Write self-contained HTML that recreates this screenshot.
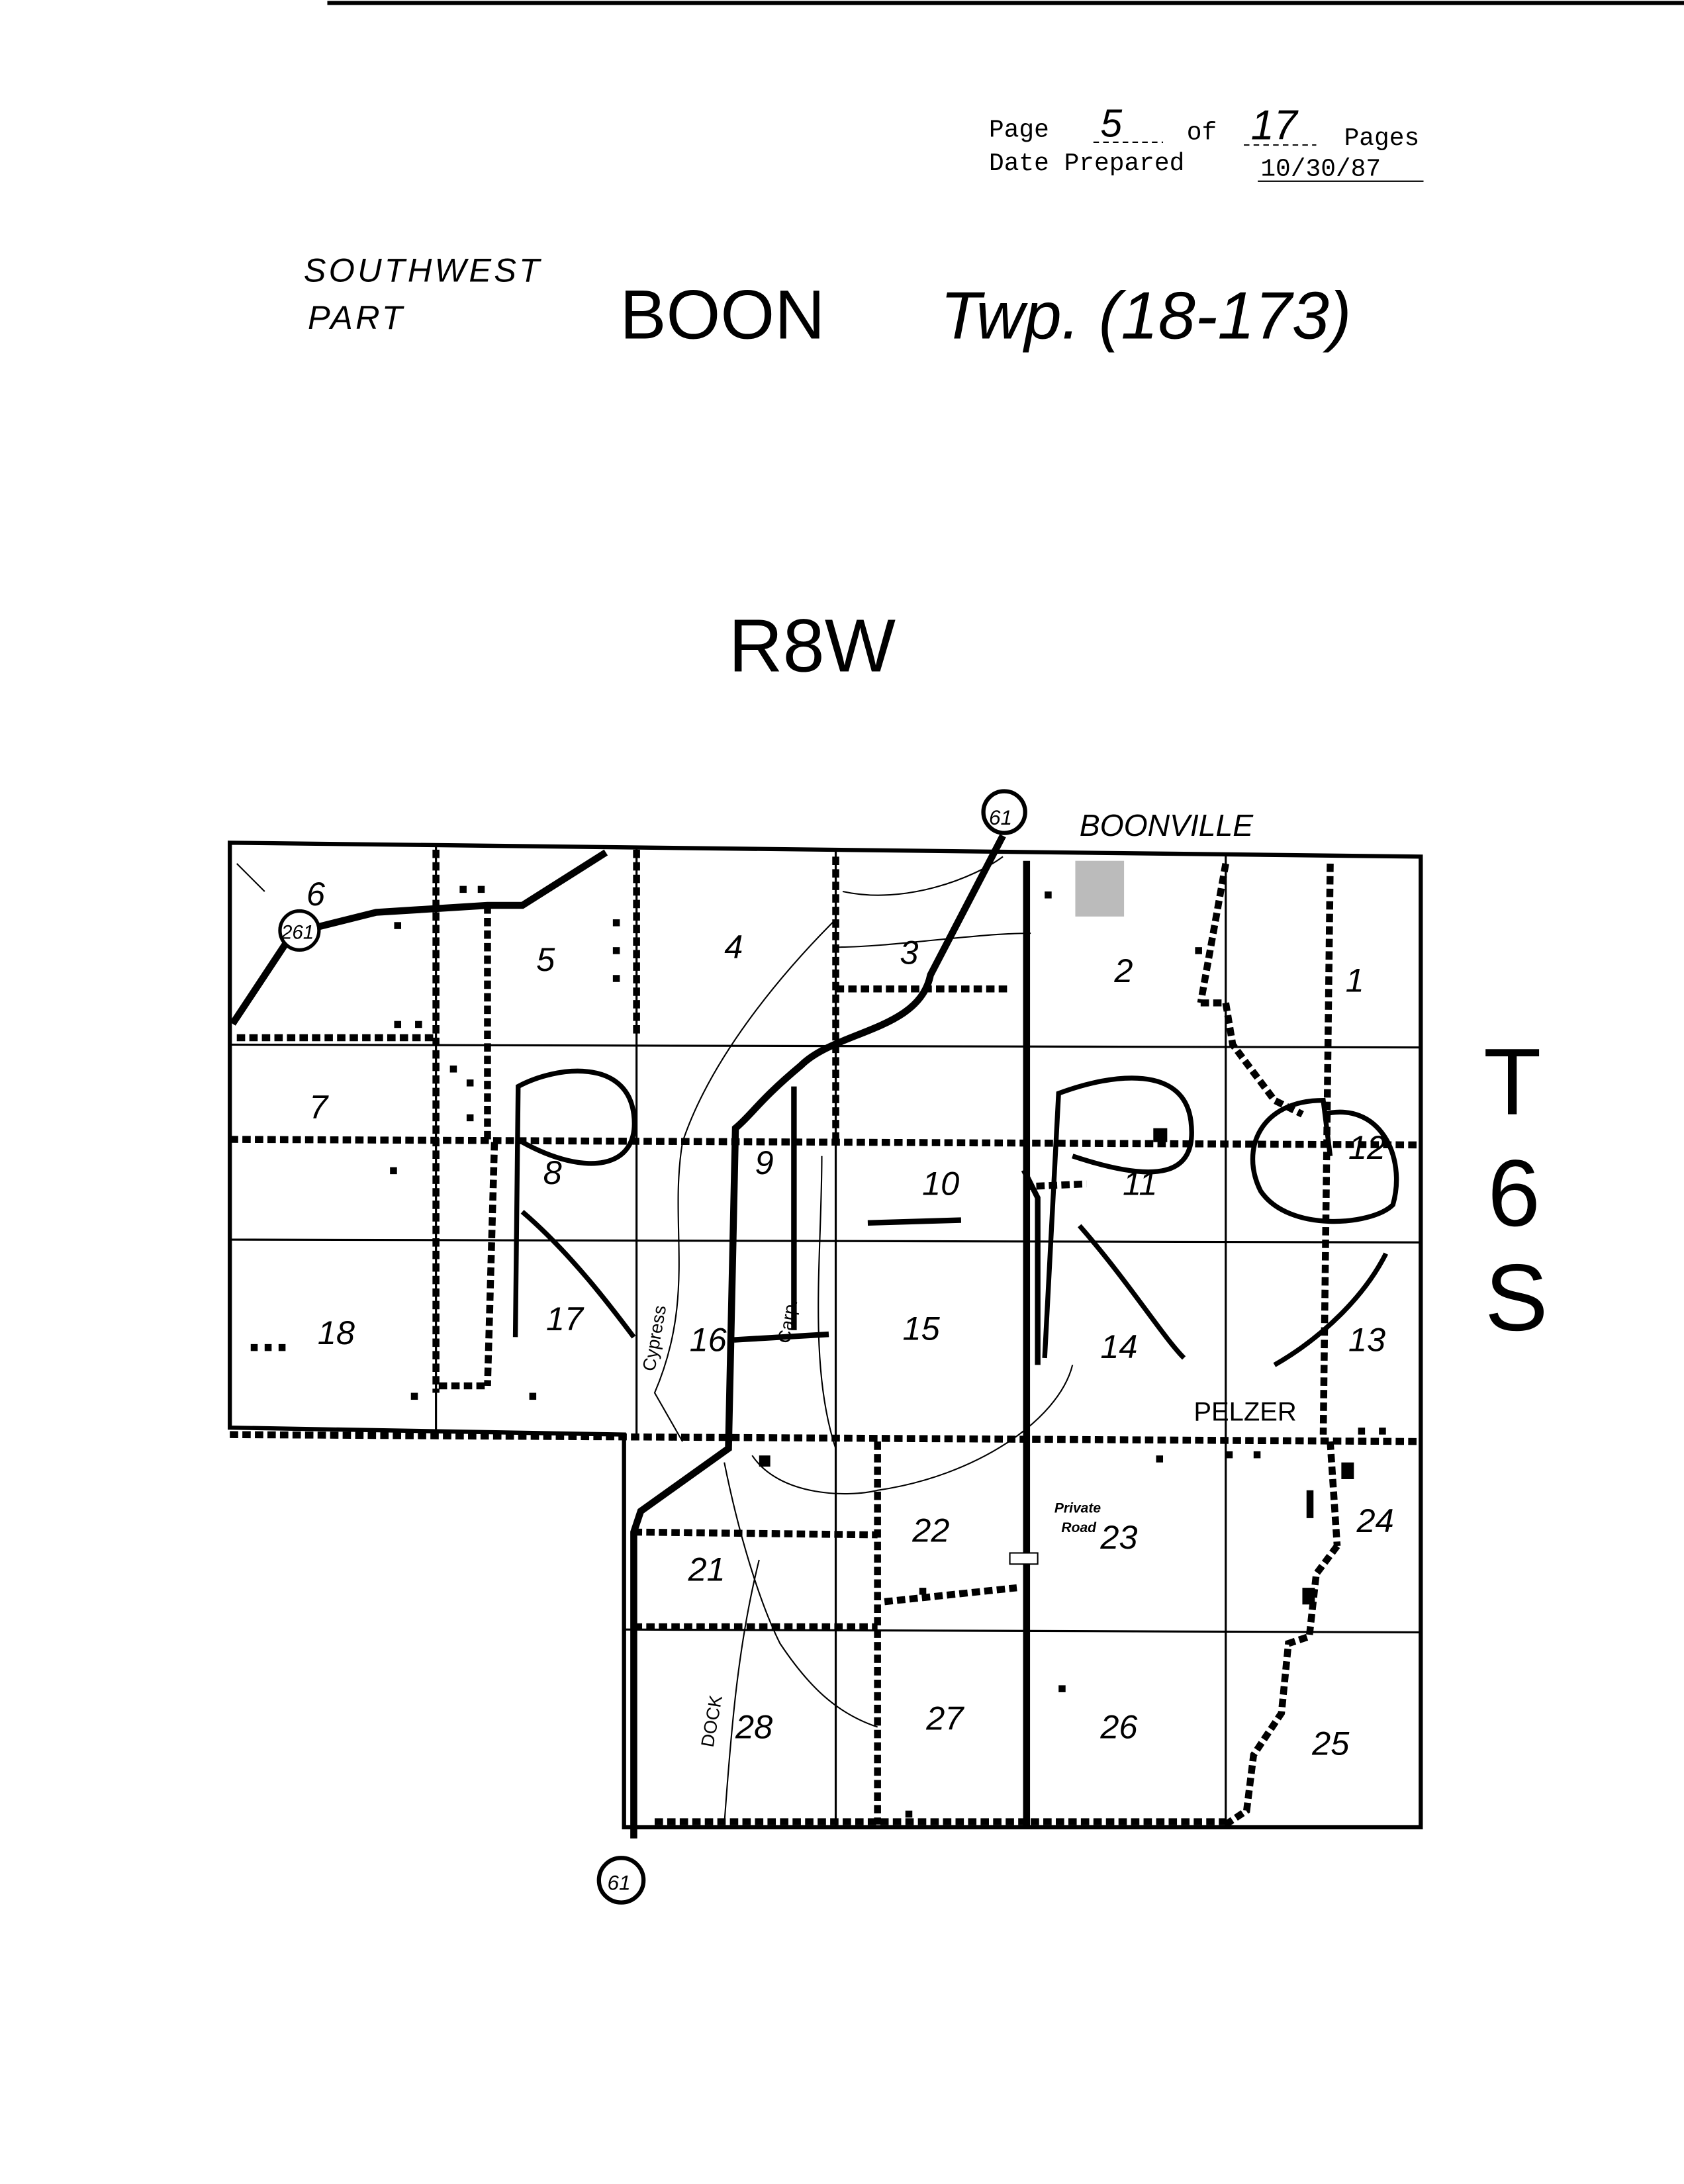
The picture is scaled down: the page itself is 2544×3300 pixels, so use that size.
<!DOCTYPE html>
<html><head><meta charset="utf-8"><style>
html,body{margin:0;padding:0;background:#fff}
svg{display:block}
</style></head><body>
<svg width="2544" height="3300" viewBox="0 0 1209 1568" xmlns="http://www.w3.org/2000/svg" font-family="Liberation Sans, sans-serif">
<rect width="1209" height="1568" fill="#fff"/>
<line x1="235" y1="2" x2="1209" y2="2" stroke="#000" stroke-width="3"/>
<!-- header -->
<text x="710" y="98" font-family="Liberation Mono, monospace" font-size="18">Page</text>
<text x="790" y="98" font-size="28" font-style="italic">5</text>
<line x1="785" y1="102" x2="835" y2="102" stroke="#000" stroke-dasharray="4 3"/>
<text x="852" y="100" font-family="Liberation Mono, monospace" font-size="18">of</text>
<text x="898" y="100" font-size="30" font-style="italic">17</text>
<line x1="893" y1="104" x2="945" y2="104" stroke="#000" stroke-dasharray="4 3"/>
<text x="965" y="104" font-family="Liberation Mono, monospace" font-size="18">Pages</text>
<text x="710" y="122" font-family="Liberation Mono, monospace" font-size="18">Date Prepared</text>
<text x="905" y="126" font-family="Liberation Mono, monospace" font-size="18">10/30/87</text>
<line x1="903" y1="130" x2="1022" y2="130" stroke="#000"/>
<text x="218" y="202" font-size="24" font-style="italic" letter-spacing="2">SOUTHWEST</text>
<text x="221" y="236" font-size="24" font-style="italic" letter-spacing="2">PART</text>
<text x="445" y="243" font-size="50">BOON</text>
<text x="675" y="243" font-size="48" font-style="italic">Twp. (18-173)</text>
<text x="523" y="482" font-size="54">R8W</text>
<text x="1065" y="800" font-size="68">T</text>
<text x="1068" y="880" font-size="68">6</text>
<text x="1066" y="955" font-size="68">S</text>
<!-- map outline -->
<g fill="none" stroke="#000">
<path d="M165 605 L1020 615 L1020 1312 L448 1312 L448 1030 L165 1025 Z" stroke-width="3"/>
<g stroke-width="1.5">
<line x1="313" y1="608" x2="313" y2="1027"/>
<line x1="457" y1="608" x2="457" y2="1030"/>
<line x1="600" y1="610" x2="600" y2="1312"/>
<line x1="880" y1="612" x2="880" y2="1312"/>
<line x1="165" y1="750" x2="1020" y2="752"/>
<line x1="165" y1="890" x2="1020" y2="892"/>
<line x1="448" y1="1170" x2="1020" y2="1172"/>
</g>
<g stroke-width="5" stroke-dasharray="6 3">
<line x1="165" y1="818" x2="1020" y2="822"/>
<line x1="165" y1="1030" x2="1020" y2="1035"/>
<line x1="455" y1="1100" x2="630" y2="1102"/>
<line x1="455" y1="1168" x2="630" y2="1168"/>
<line x1="630" y1="1035" x2="630" y2="1310"/>
<line x1="600" y1="710" x2="725" y2="710"/>
<line x1="170" y1="745" x2="313" y2="745"/>
<line x1="313" y1="610" x2="313" y2="1000"/>
<line x1="457" y1="610" x2="457" y2="745"/>
<line x1="350" y1="650" x2="350" y2="820"/>
<line x1="600" y1="615" x2="600" y2="820"/>
<line x1="955" y1="620" x2="950" y2="1030"/>
<line x1="955" y1="1035" x2="960" y2="1110"/>
<line x1="355" y1="820" x2="350" y2="995"/>
<line x1="315" y1="995" x2="350" y2="995"/>
<line x1="635" y1="1150" x2="730" y2="1140"/>
<line x1="880" y1="620" x2="862" y2="720"/>
<path d="M862 720 L880 720 L885 750 L915 790 L935 800"/>
<path d="M960 1110 L945 1130 L940 1175 L925 1180 L920 1230 L900 1260 L895 1300 L880 1310"/>
<line x1="470" y1="1308" x2="880" y2="1308"/>
<line x1="735" y1="852" x2="780" y2="850"/>
</g>
<path d="M720 600 L668 700 C660 740 600 740 575 765 C545 790 540 800 528 810 L523 1040 L460 1085 L455 1100 L455 1320" stroke-width="5"/>
<line x1="737" y1="618" x2="737" y2="1312" stroke-width="5"/>
<path d="M167 735 L210 670 L270 655 L350 650 L375 650 L435 612" stroke-width="5"/>
<path d="M570 780 L570 955" stroke-width="4"/>
<path d="M527 962 L595 958" stroke-width="4"/>
<path d="M623 878 L690 876" stroke-width="4"/>
<path d="M735 840 L745 860 L745 980" stroke-width="4"/>
<g stroke-width="3.5">
<path d="M370 960 L372 780 C400 765 450 760 455 800 C460 840 420 845 375 820"/>
<path d="M375 870 C410 900 440 940 455 960"/>
<path d="M750 975 L760 785 C800 770 850 765 855 805 C860 845 830 850 770 830"/>
<path d="M775 880 C810 920 835 960 850 975"/>
<path d="M950 800 C990 790 1010 830 1000 865 C985 880 925 885 905 855 C890 825 905 790 950 790 L955 830"/>
<path d="M995 900 C980 930 950 960 915 980"/>
</g>
<g stroke-width="1">
<path d="M600 660 C560 700 510 760 490 820 C480 880 500 930 470 1000 L490 1035"/>
<path d="M605 640 C650 650 700 630 720 615"/>
<path d="M600 680 C640 680 700 670 740 670"/>
<path d="M520 1050 C530 1100 545 1150 560 1180 C580 1210 600 1230 630 1240"/>
<path d="M540 1045 C560 1075 610 1075 630 1070 C700 1060 760 1020 770 980"/>
<path d="M545 1120 C530 1180 525 1240 520 1310"/>
<path d="M590 830 C590 900 580 980 600 1040"/>
<path d="M170 620 L190 640"/>
</g>
<circle cx="721" cy="583" r="15" fill="#fff" stroke-width="3"/>
<circle cx="215" cy="668" r="14" fill="#fff" stroke-width="2.5"/>
<circle cx="446" cy="1350" r="16" fill="#fff" stroke-width="3"/>
</g>
<text x="710" y="592" font-size="15" font-style="italic">61</text>
<text x="202" y="674" font-size="14" font-style="italic">261</text>
<text x="436" y="1357" font-size="15" font-style="italic">61</text>
<text x="775" y="600" font-size="22" font-style="italic">BOONVILLE</text>
<rect x="772" y="618" width="35" height="40" fill="#bbb"/>
<text x="857" y="1020" font-size="19">PELZER</text>
<text x="757" y="1086" font-size="10" font-style="italic" font-weight="bold">Private</text>
<text x="762" y="1100" font-size="10" font-style="italic" font-weight="bold">Road</text>
<g font-size="24" font-style="italic">
<text x="220" y="650">6</text><text x="385" y="697">5</text><text x="520" y="688">4</text>
<text x="646" y="692">3</text><text x="800" y="705">2</text><text x="966" y="712">1</text>
<text x="222" y="803">7</text><text x="390" y="850">8</text><text x="542" y="843">9</text>
<text x="662" y="858">10</text><text x="806" y="858">11</text><text x="968" y="832">12</text>
<text x="228" y="965">18</text><text x="392" y="955">17</text><text x="495" y="970">16</text>
<text x="648" y="962">15</text><text x="790" y="975">14</text><text x="968" y="970">13</text>
<text x="494" y="1135">21</text><text x="655" y="1107">22</text><text x="790" y="1112">23</text>
<text x="974" y="1100">24</text><text x="528" y="1248">28</text><text x="665" y="1242">27</text>
<text x="790" y="1248">26</text><text x="942" y="1260">25</text>
</g>
<text x="470" y="985" font-size="13" transform="rotate(-80 470 985)">Cypress</text>
<text x="567" y="965" font-size="13" transform="rotate(-80 567 965)">Carp.</text>
<text x="512" y="1255" font-size="13" transform="rotate(-80 512 1255)">DOCK</text>
<g fill="#000">
<rect x="283" y="662" width="5" height="5"/><rect x="330" y="636" width="5" height="5"/><rect x="343" y="636" width="5" height="5"/>
<rect x="440" y="660" width="5" height="5"/><rect x="440" y="680" width="5" height="5"/><rect x="440" y="700" width="5" height="5"/>
<rect x="283" y="733" width="5" height="5"/><rect x="298" y="733" width="5" height="5"/><rect x="323" y="765" width="5" height="5"/>
<rect x="335" y="775" width="5" height="5"/><rect x="335" y="800" width="5" height="5"/><rect x="280" y="838" width="5" height="5"/>
<rect x="180" y="965" width="5" height="5"/><rect x="190" y="965" width="5" height="5"/><rect x="200" y="965" width="5" height="5"/>
<rect x="295" y="1000" width="5" height="5"/><rect x="380" y="1000" width="5" height="5"/><rect x="545" y="1045" width="8" height="8"/>
<rect x="828" y="810" width="10" height="10"/><rect x="750" y="640" width="5" height="5"/><rect x="858" y="680" width="5" height="5"/>
<rect x="935" y="1140" width="9" height="12"/><rect x="963" y="1050" width="9" height="12"/><rect x="938" y="1070" width="5" height="20"/>
<rect x="725" y="1115" width="20" height="8" fill="#fff" stroke="#000"/>
<rect x="660" y="1140" width="5" height="5"/><rect x="760" y="1210" width="5" height="5"/><rect x="650" y="1300" width="5" height="5"/>
<rect x="880" y="1042" width="5" height="5"/><rect x="900" y="1042" width="5" height="5"/><rect x="830" y="1045" width="5" height="5"/>
<rect x="975" y="1025" width="5" height="5"/><rect x="990" y="1025" width="5" height="5"/>
</g>
</svg>
</body></html>
